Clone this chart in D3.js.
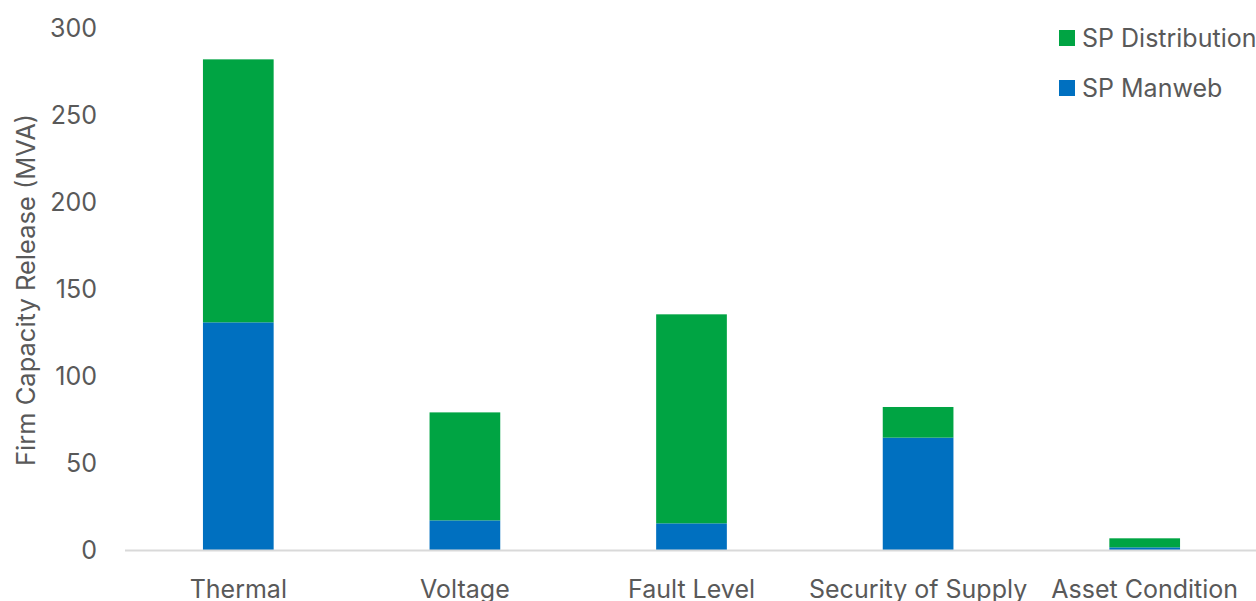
<!DOCTYPE html>
<html>
<head>
<meta charset="utf-8">
<script src="https://cdn.jsdelivr.net/npm/d3@7"></script>
<style>
  body { margin: 0; background: #fff; }
  text { font-family: Inter, "Open Sans", sans-serif; fill: #595959; }
</style>
</head>
<body>
<div id="chart"></div>
<script>
// Chart data
const categories = ["Thermal", "Voltage", "Fault Level", "Security of Supply", "Asset Condition"];
const manweb = [131, 17.3, 15.6, 64.8, 1.8];
const distribution = [151, 62, 120, 17.6, 5.2];
const seriesNames = ["SP Manweb", "SP Distribution"];
const seriesColors = ["#0070c0", "#00a443"];
const yTicks = [0, 50, 100, 150, 200, 250, 300];

// Set dimensions
let width = 1256;
let height = 601;

let svg = d3.select("#chart").append("svg")
    .attr("width", width)
    .attr("height", height);

// Set x,y scales
let x = d3.scaleBand().domain(categories).range([125, 1258]).paddingInner(0.688).paddingOuter(0.344);
let y = d3.scaleLinear().domain([0, 300]).range([550.5, 28]);

// Build stacked data
let rows = categories.map((c, i) => ({category: c, "SP Manweb": manweb[i], "SP Distribution": distribution[i]}));
let stacked = d3.stack().keys(seriesNames)(rows);

// Y axis tick labels
let yAxis = svg.append("g")
    .attr("transform", "translate(97,0)")
    .call(d3.axisLeft(y).tickValues(yTicks).tickSize(0).tickPadding(0));
yAxis.select(".domain").remove();
yAxis.selectAll(".tick text")
    .style("font-size", "25px")
    .attr("fill", "#595959");

// Y axis title
svg.append("text")
    .attr("transform", "translate(35,290) rotate(-90)")
    .attr("text-anchor", "middle")
    .style("font-size", "25.5px")
    .text("Firm Capacity Release (MVA)");

// Bars
svg.selectAll("g.series")
    .data(stacked)
    .enter()
    .append("g")
    .attr("class", "series")
    .attr("fill", (d, i) => seriesColors[i])
    .selectAll("rect")
    .data(d => d)
    .enter()
    .append("rect")
    .attr("x", d => x(d.data.category))
    .attr("y", d => y(d[1]))
    .attr("width", x.bandwidth())
    .attr("height", d => y(d[0]) - y(d[1]));

// X axis
let xAxis = svg.append("g")
    .attr("transform", "translate(0," + y(0) + ")")
    .call(d3.axisBottom(x).tickSize(0).tickPadding(0));
xAxis.select(".domain")
    .attr("stroke", "#d9d9d9")
    .attr("stroke-width", 2)
    .attr("d", "M125,0H1256");
xAxis.selectAll(".tick text")
    .attr("dy", null)
    .attr("y", 47)
    .style("font-size", "25px")
    .attr("fill", "#595959");

// Legend
const legendItems = [
    {name: "SP Distribution", color: seriesColors[1], y: 38},
    {name: "SP Manweb", color: seriesColors[0], y: 88}
];
let legend = svg.selectAll("g.legend")
    .data(legendItems)
    .enter()
    .append("g")
    .attr("class", "legend")
    .attr("transform", d => "translate(1059," + d.y + ")");
legend.append("rect")
    .attr("x", 0)
    .attr("y", -8)
    .attr("width", 16)
    .attr("height", 16)
    .attr("fill", d => d.color);
legend.append("text")
    .attr("x", 23)
    .attr("dy", "0.35em")
    .style("font-size", "25px")
    .text(d => d.name);
</script>
</body>
</html>
